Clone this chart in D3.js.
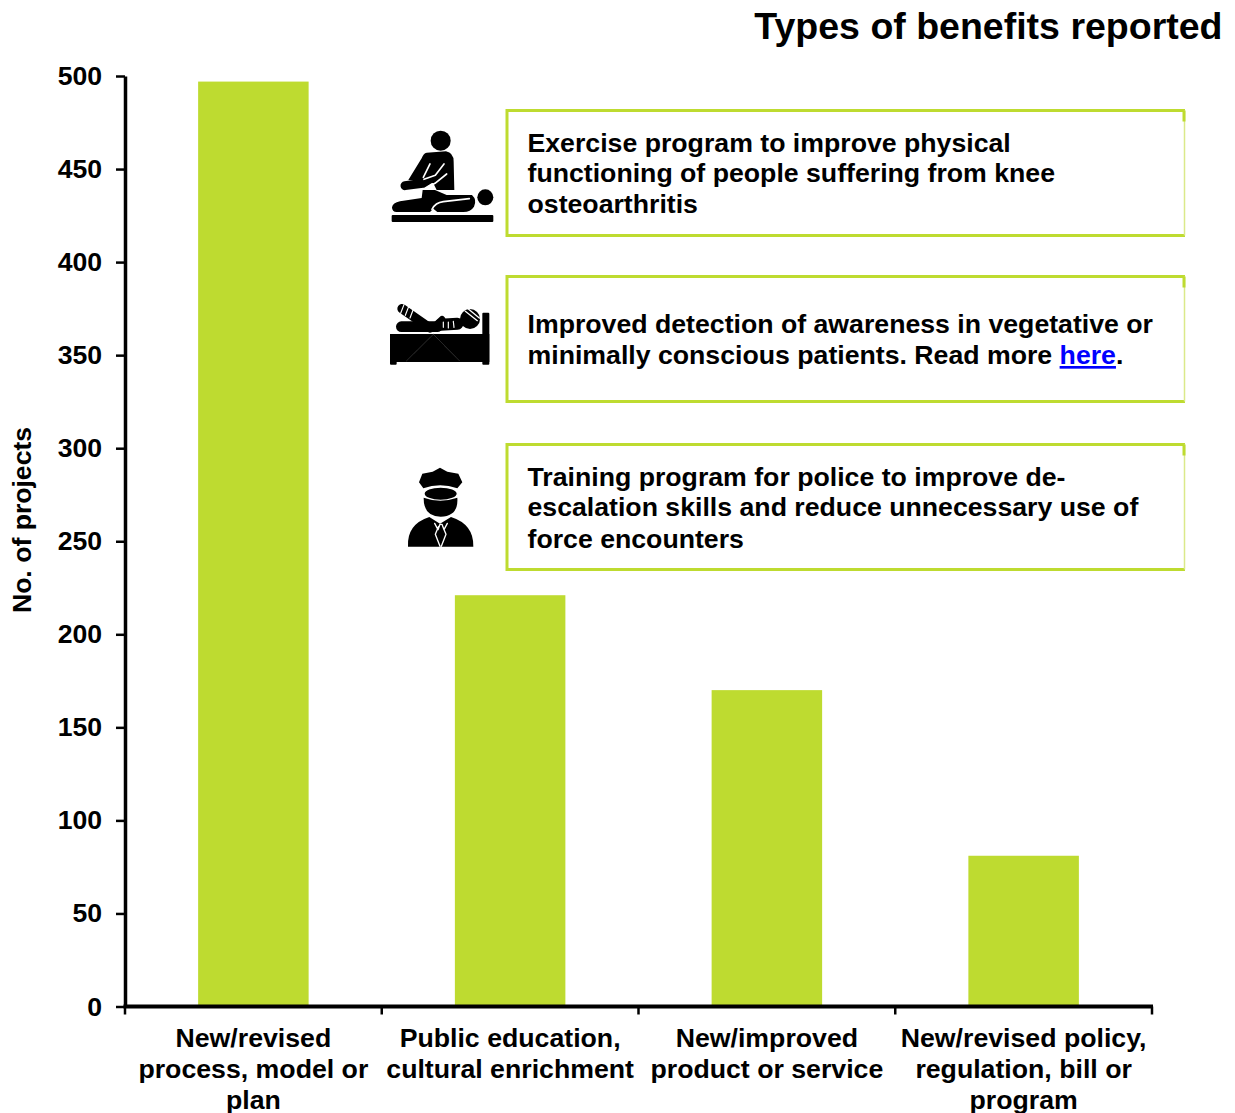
<!DOCTYPE html>
<html>
<head>
<meta charset="utf-8">
<script src="https://cdn.jsdelivr.net/npm/d3@7"></script>
<style>
html,body{margin:0;padding:0;background:#fff}
svg{display:block}
text{font-family:"Liberation Sans",Arial,sans-serif;font-weight:700;fill:#000}
</style>
</head>
<body>
<svg id="chart" width="1235" height="1113">
  <defs><filter id="soft" x="-5%" y="-5%" width="110%" height="110%"><feGaussianBlur stdDeviation="1.8"/></filter></defs>
</svg>
<script>
// Benefit categories and project counts
const categories = [
  ["New/revised", "process, model or", "plan"],
  ["Public education,", "cultural enrichment"],
  ["New/improved", "product or service"],
  ["New/revised policy,", "regulation, bill or", "program"]
];
const categoryKeys = ["process", "education", "product", "policy"];
const projectCounts = [497, 221, 170, 81];
const yTicks = [0, 50, 100, 150, 200, 250, 300, 350, 400, 450, 500];

// Example callouts
const calloutLines = [
  [["Exercise program to improve physical"], ["functioning of people suffering from knee"], ["osteoarthritis"]],
  [["Improved detection of awareness in vegetative or"], ["minimally conscious patients. Read more ", "here", "."]],
  [["Training program for police to improve de-"], ["escalation skills and reduce unnecessary use of"], ["force encounters"]]
];
const calloutBaselines = [[152, 182, 213], [333, 364], [486, 516, 548]];
const calloutTops = [110.5, 276.5, 444.5];

const GREEN = "#bedb30";
const svg = d3.select("#chart");

const y = d3.scaleLinear().domain([0, 500]).range([1006.5, 76]);
const x = d3.scaleBand().domain(categoryKeys).range([125, 1152]);
const barWidth = 110.5;

// Bars
svg.append("g").selectAll("rect").data(projectCounts).join("rect")
  .attr("x", (d, i) => x(categoryKeys[i]) + x.bandwidth() / 2 - barWidth / 2)
  .attr("y", d => y(d))
  .attr("width", barWidth)
  .attr("height", d => y(0) - y(d))
  .attr("fill", GREEN);

// Y axis
const yAxis = svg.append("g").attr("transform", "translate(125,0)")
  .call(d3.axisLeft(y).tickValues(yTicks).tickSize(9).tickPadding(14).tickSizeOuter(0));
yAxis.select(".domain").attr("stroke", "#000").attr("stroke-width", 3.5);
yAxis.selectAll(".tick line").attr("stroke", "#000").attr("stroke-width", 2.5);
yAxis.selectAll("text").attr("font-size", 26.6).style("font-family", '"Liberation Sans",Arial,sans-serif').style("font-weight", 700);

// X axis: ticks sit on the band edges, labels are drawn separately to wrap
const xAxisG = svg.append("g");
xAxisG.append("line").attr("x1", x.range()[0] - 1.5).attr("x2", x.range()[1] + 1)
  .attr("y1", y(0)).attr("y2", y(0)).attr("stroke", "#000").attr("stroke-width", 4);
xAxisG.selectAll("line.t").data(d3.range(categoryKeys.length + 1)).join("line").attr("class", "t")
  .attr("x1", i => x.range()[0] + i * x.step()).attr("x2", i => x.range()[0] + i * x.step())
  .attr("y1", y(0)).attr("y2", y(0) + 8)
  .attr("stroke", "#000").attr("stroke-width", 2.5);

const catLabels = svg.append("g").attr("text-anchor", "middle").attr("font-size", 26.7);
categories.forEach((lines, i) => {
  lines.forEach((line, j) => {
    catLabels.append("text")
      .attr("x", x(categoryKeys[i]) + x.bandwidth() / 2)
      .attr("y", 1046.5 + j * 31)
      .text(line);
  });
});

// Y axis title
svg.append("text").attr("transform", "translate(31,520) rotate(-90)")
  .attr("text-anchor", "middle").attr("font-size", 26.6).text("No. of projects");

// Chart title
svg.append("text").attr("x", 1222.5).attr("y", 39).attr("text-anchor", "end")
  .attr("font-size", 37.5).text("Types of benefits reported");

// Callout boxes
calloutTops.forEach((top, i) => {
  const g = svg.append("g");
  const bottom = top + 125;
  g.append("path")
    .attr("d", `M1185 ${top}H507V${bottom}H1185`)
    .attr("fill", "none").attr("stroke", GREEN).attr("stroke-width", 3);
  g.append("line").attr("x1", 1184.5).attr("x2", 1184.5).attr("y1", top).attr("y2", bottom)
    .attr("stroke", "#dbe98a").attr("stroke-width", 1.5);
  g.append("line").attr("x1", 1184).attr("x2", 1184).attr("y1", top).attr("y2", top + 11)
    .attr("stroke", GREEN).attr("stroke-width", 3);
  calloutLines[i].forEach((parts, j) => {
    const t = g.append("text").attr("x", 527.5).attr("y", calloutBaselines[i][j]).attr("font-size", 26.68);
    parts.forEach(p => {
      const s = t.append("tspan").text(p);
      if (p === "here") s.style("fill", "#0000ff").style("text-decoration", "underline");
    });
  });
});

const stroke = (g, d, w, colour = "#000") => g.append("path").attr("d", d).attr("fill", "none")
  .attr("stroke", colour).attr("stroke-width", w).attr("stroke-linecap", "round").attr("stroke-linejoin", "round");

// Therapist treating a patient on a table
const icon1 = svg.append("g").attr("transform", "translate(380,100) scale(0.3333)").attr("filter", "url(#soft)");
icon1.append("circle").attr("cx", 182).attr("cy", 122).attr("r", 30);
icon1.append("path").attr("d", "M140 158L198 154Q221 158 221 185L223 270H170L160 250L120 240L85 240L125 175Q130 160 140 158Z");
stroke(icon1, "M75 257L128 250L190 212", 27);
stroke(icon1, "M150 192L130 232", 5, "#fff");
stroke(icon1, "M192 192L166 226L132 238", 5, "#fff");
stroke(icon1, "M128 270L165 250L200 222", 5, "#fff");
icon1.append("path").attr("d", "M36 322Q38 308 60 304L125 294L128 270L165 270L200 285L276 285Q292 300 282 320Q272 336 250 336H172L160 326L150 336H50Q36 336 36 322Z");
stroke(icon1, "M156 328Q166 308 190 305L268 296", 5, "#fff");
icon1.append("circle").attr("cx", 316).attr("cy", 292).attr("r", 24);
icon1.append("rect").attr("x", 35).attr("y", 345).attr("width", 305).attr("height", 21).attr("rx", 3);

// Patient lying in a hospital bed
const icon2 = svg.append("g").attr("transform", "translate(380,290) scale(0.3333)").attr("filter", "url(#soft)");
icon2.append("rect").attr("x", 30).attr("y", 132).attr("width", 298).attr("height", 84);
icon2.append("rect").attr("x", 307).attr("y", 68).attr("width", 21).attr("height", 156).attr("rx", 3);
icon2.append("rect").attr("x", 30).attr("y", 210).attr("width", 20).attr("height", 14).attr("rx", 3);
stroke(icon2, "M66 56L150 114", 28);
stroke(icon2, "M64 110L172 110", 32);
stroke(icon2, "M165 108L186 88", 20);
stroke(icon2, "M182 104L232 101", 36);
icon2.append("circle").attr("cx", 270).attr("cy", 87).attr("r", 30);
stroke(icon2, "M72 44L62 70M86 50L76 76M100 58L90 84M190 96L190 112M205 96L205 114M220 94L222 112", 3.5, "#fff");
stroke(icon2, "M256 64L292 92M266 58L298 84", 4, "#fff");
stroke(icon2, "M160 133L80 212M160 133L238 212", 2, "#444");

// Police officer
const icon3 = svg.append("g").attr("transform", "translate(390,455) scale(0.3333)").attr("filter", "url(#soft)");
icon3.append("path").attr("d", "M150 38L172 50L205 56L217 82L202 100Q150 82 100 100L87 82L97 56L128 50Z");
icon3.append("ellipse").attr("cx", 152).attr("cy", 116).attr("rx", 50).attr("ry", 20).attr("fill", "#000").attr("stroke", "#fff").attr("stroke-width", 4);
icon3.append("path").attr("d", "M101 128Q150 146 202 128Q206 184 152 185Q100 184 101 128Z");
icon3.append("path").attr("d", "M54 275Q50 208 118 186L150 206L183 186Q252 208 250 275Z");
stroke(icon3, "M134 205L144 224L150 208H156L162 224L172 205M146 214L136 238L150 274M158 214L168 238L154 274", 4, "#fff");
</script>
</body>
</html>
